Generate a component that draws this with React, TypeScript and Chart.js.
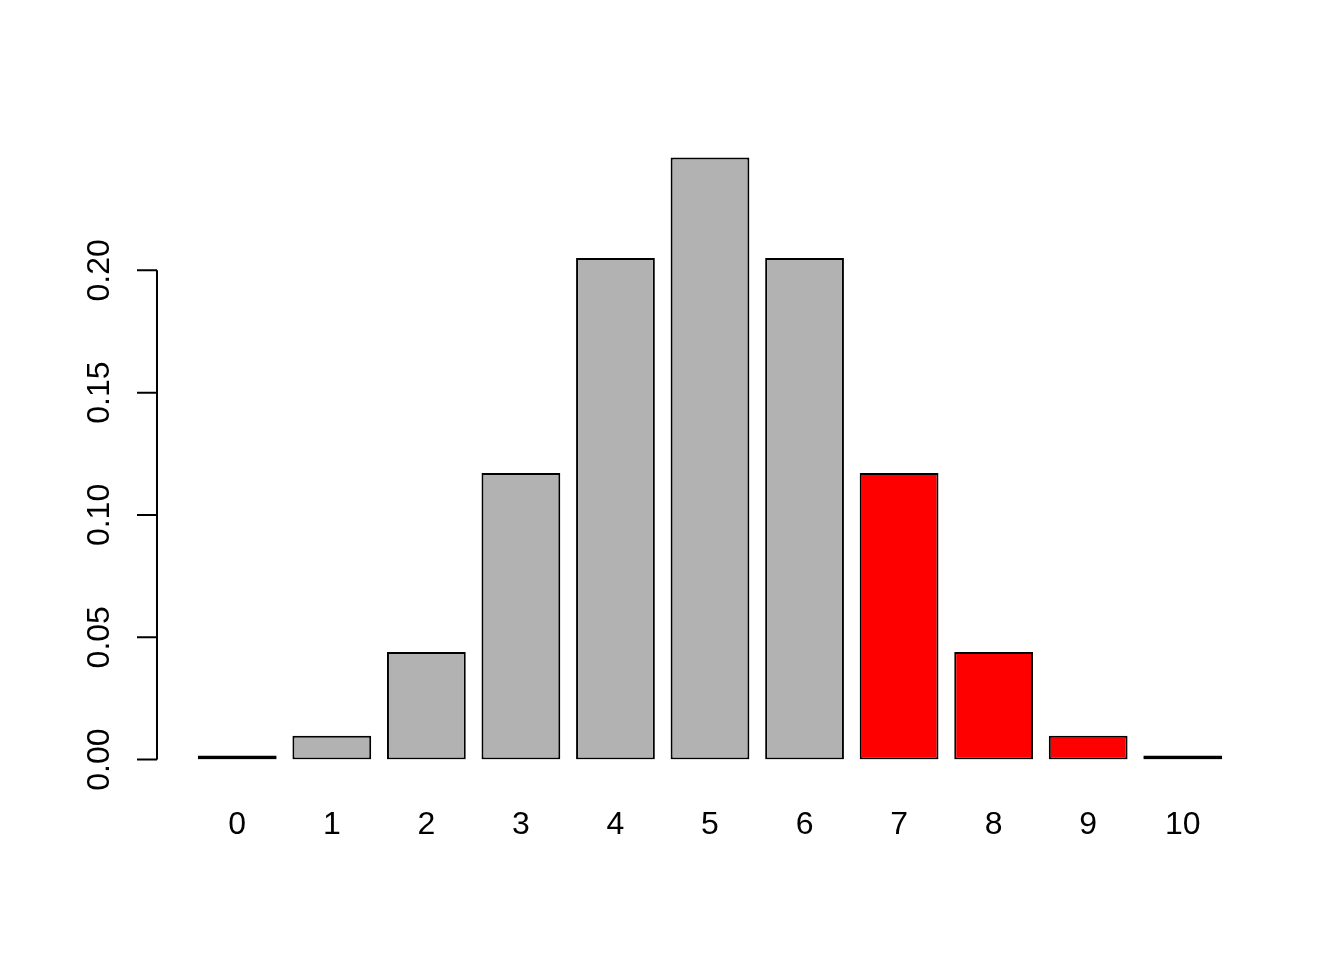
import React, { useEffect, useRef } from "react";
import { Chart, registerables, ChartOptions, Plugin } from "chart.js";

Chart.register(...registerables);

// Binomial(10, 0.5) probabilities, one bar per outcome
const outcomes = ["0", "1", "2", "3", "4", "5", "6", "7", "8", "9", "10"];
const probabilities = [
  0.000977, 0.009766, 0.043945, 0.117188, 0.205078, 0.246094, 0.205078,
  0.117188, 0.043945, 0.009766, 0.000977,
];
// upper tail (x >= 7) is highlighted
const inUpperTail = [false, false, false, false, false, false, false, true, true, true, true];
const yTicks = [0, 0.05, 0.1, 0.15, 0.2];

const FONT = "'Liberation Sans', Arial, Helvetica, sans-serif";

// R-style left axis: line only across the tick range, labels turned upright
const rAxis: Plugin<"bar"> = {
  id: "rAxis",
  afterDraw(chart) {
    const { ctx, chartArea } = chart;
    const y = chart.scales.y;
    const axisX = chartArea.left - 33;
    const top = y.getPixelForValue(yTicks[yTicks.length - 1]);
    const bottom = y.getPixelForValue(yTicks[0]);
    ctx.save();
    ctx.strokeStyle = "#000";
    ctx.lineWidth = 2;
    ctx.beginPath();
    ctx.moveTo(axisX, top);
    ctx.lineTo(axisX, bottom);
    yTicks.forEach((t) => {
      const py = y.getPixelForValue(t);
      ctx.moveTo(axisX, py);
      ctx.lineTo(axisX - 20, py);
    });
    ctx.stroke();
    ctx.fillStyle = "#000";
    ctx.font = `32px ${FONT}`;
    ctx.textAlign = "center";
    ctx.textBaseline = "middle";
    yTicks.forEach((t) => {
      const py = y.getPixelForValue(t);
      ctx.save();
      ctx.translate(axisX - 57, py);
      ctx.rotate(-Math.PI / 2);
      ctx.fillText(t.toFixed(2), 0, 0);
      ctx.restore();
    });
    ctx.restore();
  },
};

export default function App() {
  const canvasRef = useRef<HTMLCanvasElement>(null);

  useEffect(() => {
    document.body.style.margin = "0";
    if (!canvasRef.current) return;
    const ctx = canvasRef.current.getContext("2d")!;

    const options: ChartOptions<"bar"> = {
      responsive: true,
      maintainAspectRatio: false,
      animation: false,
      layout: {
        padding: { left: 190, right: 114, top: 148, bottom: 70 },
      },
      plugins: {
        legend: { display: false },
        tooltip: { enabled: false },
      },
      scales: {
        x: {
          type: "category",
          offset: true,
          grid: { display: false, drawTicks: false },
          border: { display: false },
          ticks: {
            color: "#000",
            padding: 46,
            font: { family: FONT, size: 32 },
            maxRotation: 0,
            autoSkip: false,
          },
        },
        y: {
          display: false,
          min: 0,
          max: 0.25,
        },
      },
    };

    const chart = new Chart(ctx, {
      type: "bar",
      data: {
        labels: outcomes,
        datasets: [
          {
            data: probabilities,
            backgroundColor: inUpperTail.map((t) => (t ? "#FF0000" : "#B2B2B2")),
            borderColor: "#000",
            borderWidth: 2,
            borderSkipped: false,
            minBarLength: 4,
            barPercentage: 1 / 1.2,
            categoryPercentage: 1,
          },
        ],
      },
      options,
      plugins: [rAxis],
    });

    return () => chart.destroy();
  }, []);

  return (
    <div style={{ width: 1344, height: 960, background: "#fff" }}>
      <canvas ref={canvasRef} />
    </div>
  );
}
